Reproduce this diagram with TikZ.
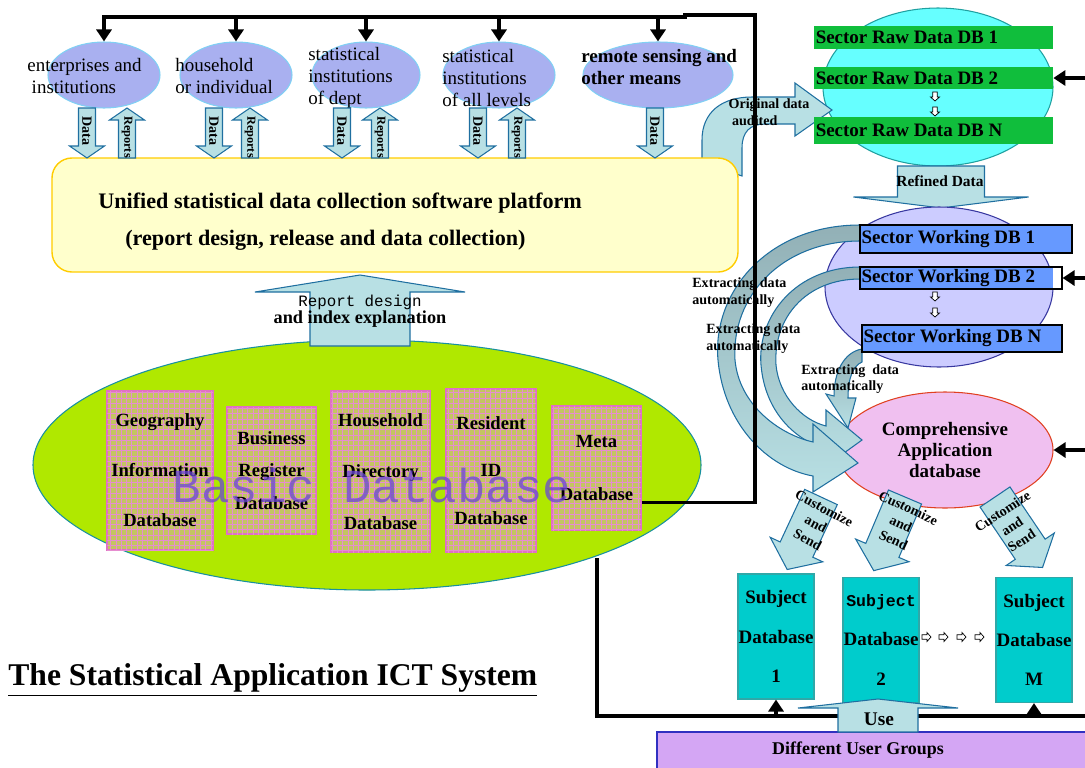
\documentclass[tikz,border=0pt]{standalone}
\usepackage{fontspec}
\setmainfont{Liberation Serif}
\setmonofont{Liberation Mono}
\usetikzlibrary{arrows.meta, positioning, calc, patterns, shapes.geometric}
\definecolor{srcblue}{HTML}{A9B0F0}
\definecolor{srcedge}{HTML}{80D0F4}
\definecolor{flowfill}{HTML}{B8E0E4}
\definecolor{flowedge}{HTML}{1F6FA0}
\definecolor{extractdark}{HTML}{92B0B6}
\definecolor{platfill}{HTML}{FFFFCC}
\definecolor{platedge}{HTML}{FFCC00}
\definecolor{basegreen}{HTML}{B0E800}
\definecolor{baseedge}{HTML}{1890A0}
\definecolor{basetext}{HTML}{6A45D8}
\definecolor{dbkhaki}{HTML}{C4C462}
\definecolor{dbpink}{HTML}{E070C4}
\definecolor{rawcyan}{HTML}{66FFFF}
\definecolor{rawedge}{HTML}{20A0A0}
\definecolor{rawgreen}{HTML}{10BE3C}
\definecolor{worklav}{HTML}{CCCCFF}
\definecolor{workedge}{HTML}{3838A0}
\definecolor{workblue}{HTML}{6699FF}
\definecolor{comppink}{HTML}{F0C0F0}
\definecolor{compedge}{HTML}{E04020}
\definecolor{subjteal}{HTML}{00CCCC}
\definecolor{subjedge}{HTML}{30A8A8}
\definecolor{userlilac}{HTML}{D4A6F4}
\definecolor{useredge}{HTML}{3030C0}

\tikzset{
  pics/blockarrow/.style n args={4}{code={
    \draw[flow] (0,-#2) -- ({#1-#4},-#2) -- ({#1-#4},-#3) -- (#1,0)
      -- ({#1-#4},#3) -- ({#1-#4},#2) -- (0,#2) -- cycle;
  }},
  pics/tinyarrow/.style={code={
    \draw[tinyflow] (0,-2.2) -- (5,-2.2) -- (5,-4.5) -- (9,0)
      -- (5,4.5) -- (5,2.2) -- (0,2.2) -- cycle;
  }}
}

\begin{document}
\begin{tikzpicture}[x=0.2mm, y=-0.2mm,
  source/.style={ellipse, draw=srcedge, fill=srcblue, line width=0.6pt, minimum width=22.4mm, minimum height=13.2mm, inner sep=0pt},
  srctext/.style={anchor=west, align=left, inner sep=0pt, font=\fontsize{10.8}{12.4}\selectfont},
  flow/.style={draw=flowedge, fill=flowfill, line width=0.6pt},
  tinyflow/.style={draw=black, fill=white, line width=0.4pt},
  extract/.style={draw=flowedge, line width=0.6pt, top color=extractdark, bottom color=flowfill},
  flowtext/.style={inner sep=0pt, font=\fontsize{8}{9.5}\selectfont\bfseries},
  boldtext/.style={inner sep=0pt, font=\fontsize{10.8}{12.4}\selectfont\bfseries},
  platform/.style={rectangle, rounded corners=4mm, draw=platedge, fill=platfill, line width=0.8pt, minimum width=137.2mm, minimum height=22.8mm},
  basedb/.style={ellipse, draw=baseedge, fill=basegreen, line width=0.6pt, minimum width=133.6mm, minimum height=50mm},
  dbbox/.style={rectangle, draw=dbpink, fill=dbkhaki, line width=0.6pt, postaction={pattern=grid, pattern color=dbpink!80}, align=center, inner sep=0pt},
  rawdb/.style={ellipse, draw=rawedge, fill=rawcyan, line width=0.6pt, minimum width=46mm, minimum height=31.6mm},
  rawbar/.style={rectangle, fill=rawgreen, minimum width=47.8mm, inner sep=0pt},
  workdb/.style={ellipse, draw=workedge, fill=worklav, line width=0.6pt, minimum width=45.6mm, minimum height=32mm},
  workbar/.style={rectangle, draw=black, fill=workblue, line width=0.6pt, inner sep=0pt},
  barlabel/.style={anchor=west, inner sep=1pt, font=\fontsize{10.8}{12}\selectfont\bfseries},
  compdb/.style={ellipse, draw=compedge, fill=comppink, line width=0.6pt, minimum width=43.2mm, minimum height=23.2mm, align=center, inner sep=0pt, font=\fontsize{10.8}{12.2}\selectfont\bfseries},
  subject/.style={rectangle, draw=subjedge, fill=subjteal, line width=0.6pt, minimum width=15.2mm, minimum height=25mm, align=center, inner sep=0pt, font=\fontsize{10.8}{22.4}\selectfont\bfseries},
  users/.style={rectangle, draw=useredge, fill=userlilac, line width=0.6pt, minimum width=86.6mm, minimum height=7.6mm},
  sendtext/.style={align=center, inner sep=0pt, font=\fontsize{8}{10}\selectfont\bfseries},
  bus/.style={line width=2.2pt},
  feed/.style={bus, -{Triangle[length=2.4mm, width=3mm]}}
]
\useasboundingbox (0,0) rectangle (1085,767);

% Data sources
\node[source] (ent) at (104,75) {};
\node[source] (hh) at (236,75) {};
\node[source, minimum width=21.6mm] (dept) at (366,75) {};
\node[source] (lvl) at (499,75) {};
\node[source, minimum width=30mm] (remote) at (658,75) {};
\node[srctext] (entlbl) at (27,76) {enterprises and\\\hspace{2.5pt}institutions};
\node[srctext] (hhlbl) at (175,76) {household\\or individual};
\node[srctext] (deptlbl) at (308,78) {statistical\\institutions\\of dept};
\node[srctext] (lvllbl) at (442,78) {statistical\\institutions\\of all levels};
\node[srctext, font=\fontsize{10.8}{12.4}\selectfont\bfseries] (remotelbl) at (581,67) {remote sensing and\\other means};

% Sector raw data
\node[rawdb] (raw) at (938,87) {};
\draw[flow] (702,162) -- (702,140) .. controls (702,112) and (722,97) .. (752,97)
  -- (795,97) -- (795,83) -- (832,110) -- (795,136) -- (795,124) -- (765,124)
  .. controls (750,124) and (742,132) .. (742,148) -- (742,176) -- cycle;
\node[flowtext, align=left] (origlbl) at (769,112) {Original data\\\hspace{2pt}audited};
\node[rawbar, minimum height=4.6mm] (raw1) at (933.5,37.5) {};
\node[rawbar, minimum height=4.4mm] (raw2) at (933.5,78) {};
\node[rawbar, minimum height=5.4mm] (rawN) at (933.5,130.5) {};
\node[barlabel] (raw1lbl) at (raw1.west) {Sector Raw Data DB 1};
\node[barlabel] (raw2lbl) at (raw2.west) {Sector Raw Data DB 2};
\node[barlabel] (rawNlbl) at (rawN.west) {Sector Raw Data DB N};
\pic[rotate=-90] at (935,92) {tinyarrow};
\pic[rotate=-90] at (935,107) {tinyarrow};

% Collection platform
\node[platform] (plat) at (395,215) {};
\node[boldtext, anchor=west, font=\fontsize{12.6}{14}\selectfont\bfseries] (platlbl) at (98,203) {Unified statistical data collection software platform};
\node[boldtext, anchor=west, font=\fontsize{12.6}{14}\selectfont\bfseries] (platsub) at (125,240) {(report design, release and data collection)};

\foreach \d/\r in {87/127, 214/250, 342/380, 478/517}{
  \pic[rotate=-90] at (\d,108) {blockarrow={50}{8.5}{17.5}{12}};
  \pic[rotate=90] at (\r,158) {blockarrow={50}{8.5}{17.5}{12}};
  \node[flowtext, rotate=-90] (data\d) at (\d,131) {Data};
  \node[flowtext, font=\fontsize{7}{8}\selectfont\bfseries, rotate=-90] (rep\r) at (\r,137) {Reports};
}
\pic[rotate=-90] at (655,108) {blockarrow={50}{8.5}{17.5}{12}};
\node[flowtext, rotate=-90] (data655) at (655,131) {Data};

% Basic database
\node[basedb] (basic) at (367,465) {};
\node[dbbox, minimum width=21.2mm, minimum height=31.8mm, font=\fontsize{10.6}{28.4}\selectfont\bfseries] (geo) at (160,470.5) {Geography\\Information\\Database};
\node[dbbox, minimum width=17.8mm, minimum height=25.4mm, font=\fontsize{10.6}{18.7}\selectfont\bfseries] (bus) at (271.5,470.5) {Business\\Register\\Database};
\node[dbbox, minimum width=19.8mm, minimum height=32.2mm, font=\fontsize{10.6}{29.5}\selectfont\bfseries] (hhd) at (380.5,471.5) {Household\\Directory\\Database};
\node[dbbox, minimum width=18mm, minimum height=32.6mm, font=\fontsize{10.6}{27}\selectfont\bfseries] (res) at (491,470.5) {Resident\\ID\\Database};
\node[dbbox, minimum width=17.8mm, minimum height=24.8mm, font=\fontsize{10.6}{30}\selectfont\bfseries] (meta) at (596.5,468) {Meta\\Database};
\node[inner sep=0pt, text=basetext, text opacity=0.75, font=\fontsize{27}{30}\selectfont\ttfamily] (basiclbl) at (372,486) {Basic Database};

\pic[rotate=90] at (360,346) {blockarrow={71}{50}{105}{17}};
\node[inner sep=0pt, font=\fontsize{9}{10}\selectfont\ttfamily] (replbl) at (360,302) {Report design};
\node[boldtext, font=\fontsize{10.4}{12}\selectfont\bfseries] (idxlbl) at (360,319) {and index explanation};

\node[anchor=west, inner sep=0pt, font=\fontsize{18}{21}\selectfont\bfseries] (title) at (8,680) {\underline{The Statistical Application ICT System}};

% Working and application databases
\pic[rotate=-90] at (941,166) {blockarrow={42}{43.5}{87.5}{11}};
\node[flowtext, font=\fontsize{8.8}{10}\selectfont\bfseries] (refined) at (940,181) {Refined Data};
\node[workdb] (work) at (939,287) {};
\node[compdb] (comp) at (945,450) {Comprehensive\\Application\\database};

\draw[extract] (862,349) .. controls (844,352) and (834,372) .. (834,396)
  -- (826,394) -- (848,428) -- (856,398) -- (848,398)
  .. controls (848,378) and (853,366) .. (862,362) -- cycle;
\draw[extract] (860,267) .. controls (796,267) and (757,316) .. (761,365)
  .. controls (765,412) and (795,440) .. (826,449)
  -- (826,466) -- (862,440) -- (826,410) -- (826,426)
  .. controls (802,420) and (779,396) .. (776,365)
  .. controls (773,318) and (806,279) .. (860,279) -- cycle;
\draw[extract] (860,225) .. controls (768,225) and (712,292) .. (718,360)
  .. controls (724,425) and (768,468) .. (813,476)
  -- (813,492) -- (858,463) -- (813,424) -- (813,442)
  .. controls (778,434) and (739,404) .. (735,360)
  .. controls (731,296) and (782,241) .. (860,241) -- cycle;

\node[workbar, minimum width=42.4mm, minimum height=5.6mm] (work1) at (966,239) {};
\node[workbar, fill=white, minimum width=40.4mm, minimum height=4.4mm,
  path picture={\fill[workblue] (path picture bounding box.north west) rectangle ([xshift=-1.8mm]path picture bounding box.south east);}] (work2) at (961,278) {};
\node[workbar, minimum width=40mm, minimum height=5.4mm] (workN) at (962,338.5) {};
\node[barlabel] (work1lbl) at (work1.west) {Sector Working DB 1};
\node[barlabel] (work2lbl) at (work2.west) {Sector Working DB 2};
\node[barlabel] (workNlbl) at (workN.west) {Sector Working DB N};
\pic[rotate=-90] at (935,292) {tinyarrow};
\pic[rotate=-90] at (935,308) {tinyarrow};

\node[flowtext, anchor=west, align=left] (ext1) at (692,292.5) {Extracting data\\automatically};
\node[flowtext, anchor=west, align=left] (ext2) at (706,338.5) {Extracting data\\automatically};
\node[flowtext, anchor=west, align=left] (ext3) at (801,379) {Extracting\ \ data\\automatically};

% Subject databases
\pic[rotate=-115] at (821,497) {blockarrow={80}{18}{29}{22}};
\pic[rotate=-113] at (905,497) {blockarrow={80}{18}{29}{22}};
\pic[rotate=-56] at (995,497) {blockarrow={85}{18}{29}{22}};
\node[sendtext, rotate=-28] (send1) at (816,524) {Customize\\and\\Send};
\node[sendtext, rotate=-25] (send2) at (901,524) {Customize\\and\\Send};
\node[sendtext, rotate=33] (sendM) at (1012,526) {Customize\\and\\Send};

\node[subject] (subj1) at (776,636.5) {Subject\\Database\\1};
\node[subject] (subj2) at (881,640) {{\fontsize{9.4}{22.4}\selectfont\ttfamily Subject}\\Database\\2};
\node[subject] (subjM) at (1034,640) {Subject\\Database\\M};
\foreach \x in {922,939,957,975}
  \pic at (\x,637) {tinyarrow};

% Users
\coordinate (busstart) at (597,558);
\coordinate (busend) at (1090,716);
\draw[bus] (busstart) |- (busend);
\draw[feed] (subj1.south |- busend) -- (subj1.south);
\draw[feed] (subjM.south |- busend) -- (subjM.south);
\node[users] (users) at (873.5,751) {};
\node[boldtext, font=\fontsize{10.2}{12}\selectfont\bfseries] (userlbl) at (858,750) {Different User Groups};
\pic[rotate=90] at (878,732) {blockarrow={33}{40}{80}{9}};
\node[boldtext, font=\fontsize{11}{12}\selectfont\bfseries] (uselbl) at (879,719) {Use};

% Feedback lines
\coordinate (topbus) at (685,17);
\coordinate (topcorner) at (755,15);
\coordinate (rim) at (1085,0);
\draw[feed] (meta.south east) ++(0,-28) -| (topcorner) -- (topbus |- topcorner) -- (topbus) -| (ent.north);
\foreach \n in {hh, dept, lvl, remote}
  \draw[feed] (\n.north |- topbus) -- (\n.north);
\draw[feed] (raw2.east -| rim) -- (raw2.east);
\draw[feed] (work2.east -| rim) -- (work2.east);
\draw[feed] (comp.east -| rim) -- (comp.east);
\end{tikzpicture}
\end{document}
